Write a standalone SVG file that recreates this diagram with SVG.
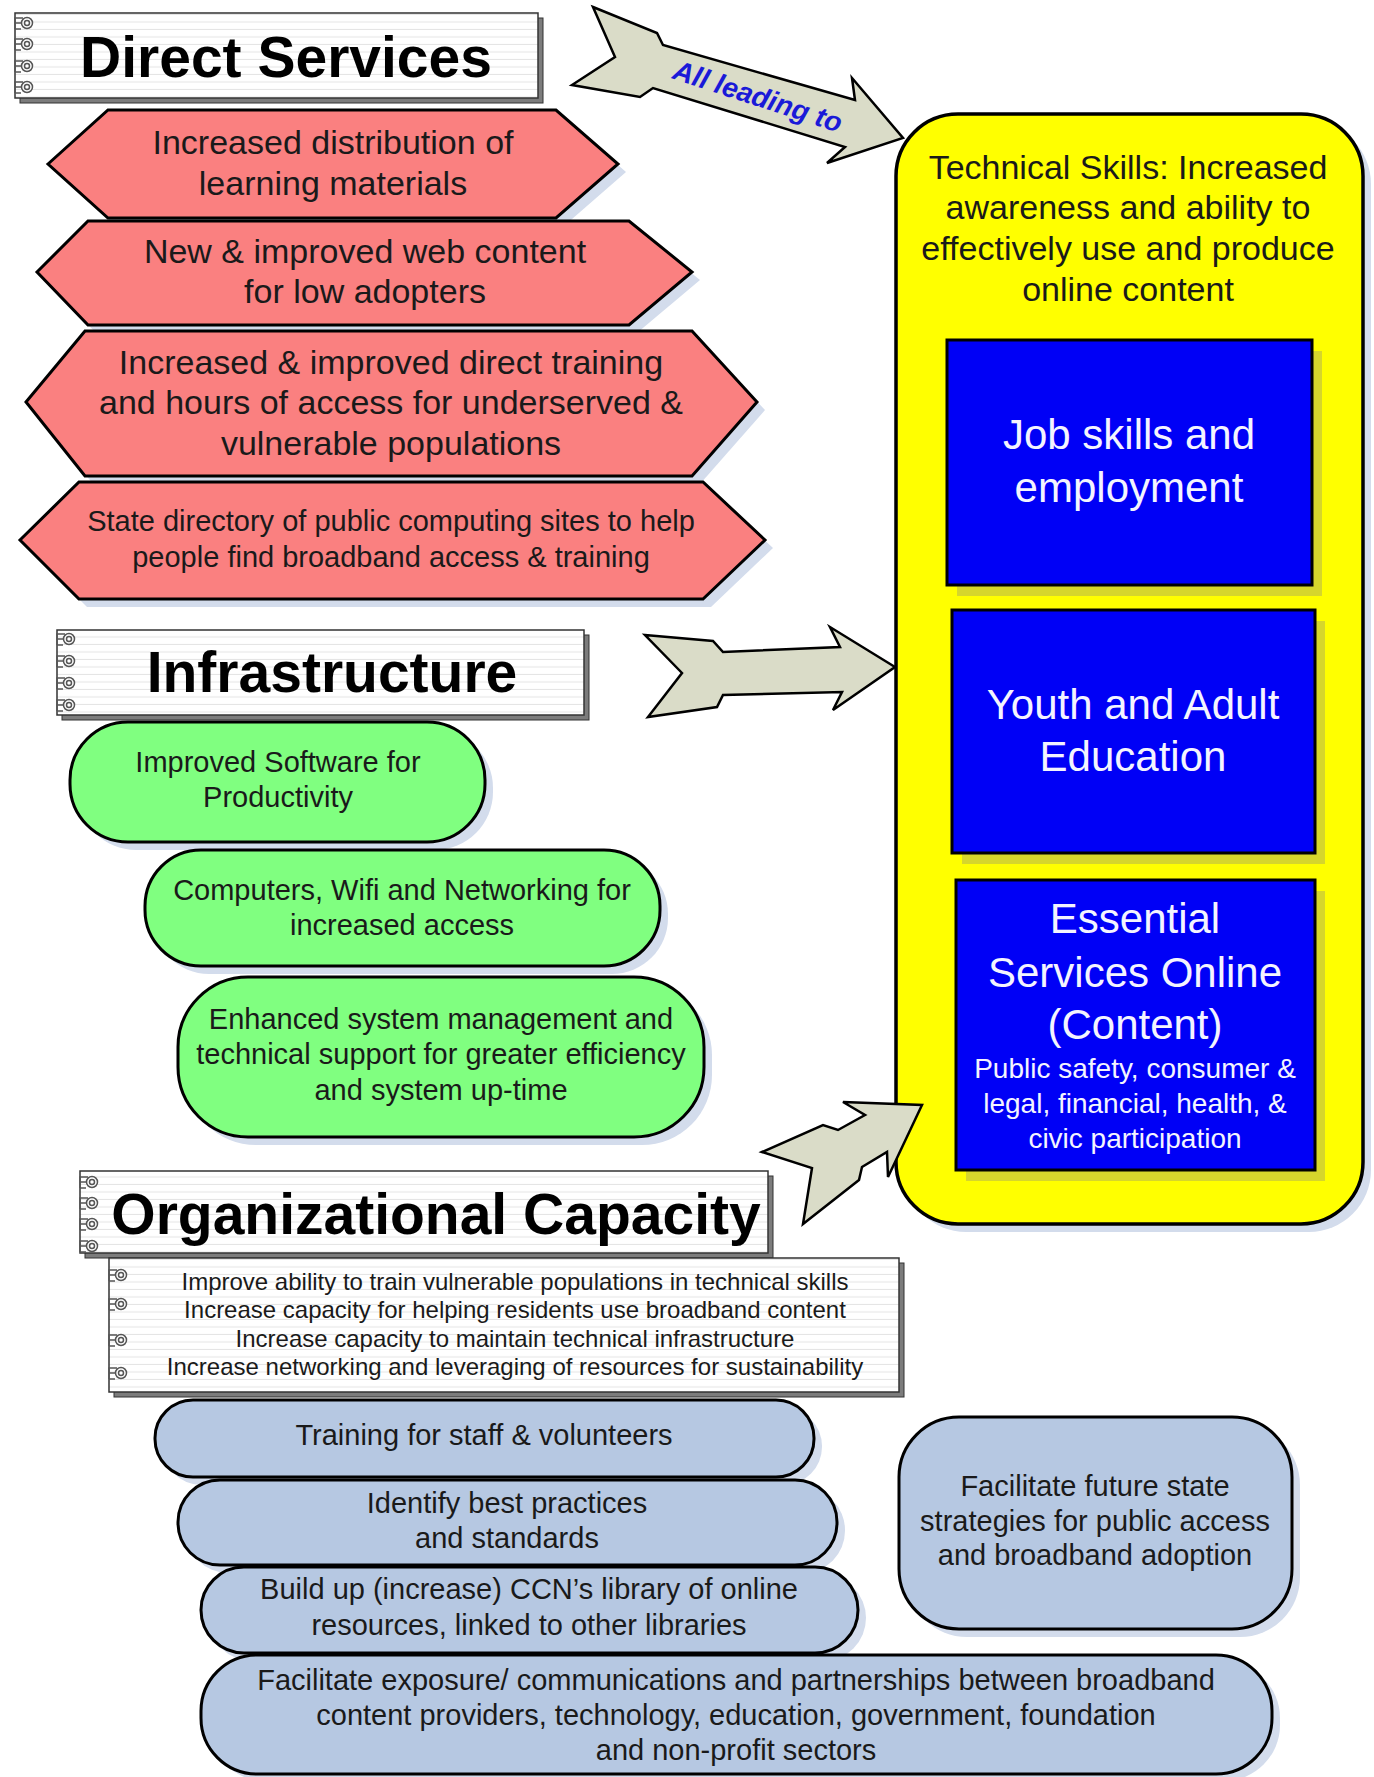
<svg xmlns="http://www.w3.org/2000/svg" width="1374" height="1777" viewBox="0 0 1374 1777">
<style>
.t{font-family:'Liberation Sans',Arial,Helvetica,sans-serif;text-anchor:middle;fill:#1a1a1a}
.title{font-size:57px;font-weight:bold;fill:#000}
.f34{font-size:34px}
.f29{font-size:29px}
.f24{font-size:24px}
.f42{font-size:42px}
.f28{font-size:28px}
.w{fill:#f4f4ff}
.hex{fill:#fa8080;stroke:#000;stroke-width:3;stroke-linejoin:miter}
.sh{fill:#d3dcec;stroke:none}
.ysh{fill:#d6d62c;stroke:none}
.green{fill:#80ff80;stroke:#000;stroke-width:3}
.bg{fill:#b6c8e2;stroke:#000;stroke-width:3}
.arrow{fill:#dadcc8;stroke:#000;stroke-width:2.5;stroke-linejoin:miter}
.nb{fill:url(#ruled);stroke:#333;stroke-width:1.5}
.nbs{fill:#7c7c7c;stroke:#333;stroke-width:1}
.ring{fill:none;stroke:#555;stroke-width:1.5}
.yellow{fill:#ffff00;stroke:#000;stroke-width:3.5}
.blue{fill:#0000f6;stroke:#000;stroke-width:3}
</style>
<defs>
<pattern id="ruled" width="10" height="7.5" patternUnits="userSpaceOnUse">
<rect width="10" height="7.5" fill="#fff"/>
<line x1="0" y1="7" x2="10" y2="7" stroke="#e4e4e4" stroke-width="1"/>
</pattern>
<g id="ring" class="ring">
<circle cx="0" cy="0" r="5.5" fill="#fff"/>
<circle cx="0" cy="0" r="2.5"/>
<path d="M -4 -5 H -12 V 6 M -12 0 H -6 M -12 6 H -6"/>
</g>
</defs>
<rect width="1374" height="1777" fill="#fff"/>

<g id="goal">
<rect class="sh" x="904" y="122" width="467" height="1110" rx="62"/>
<rect class="yellow" x="896" y="114" width="467" height="1110" rx="62"/>
<text class="t f34" x="1128"><tspan x="1128" y="179">Technical Skills: Increased</tspan><tspan x="1128" y="219">awareness and ability to</tspan><tspan x="1128" y="260">effectively use and produce</tspan><tspan x="1128" y="301">online content</tspan></text>
</g>
<g id="job-skills">
<rect class="ysh" x="957" y="351" width="365" height="245"/>
<rect class="blue" x="947" y="340" width="365" height="245"/>
<text class="t f42 w"><tspan x="1129" y="449">Job skills and</tspan><tspan x="1129" y="502">employment</tspan></text>
</g>
<g id="youth-adult">
<rect class="ysh" x="962" y="621" width="363" height="243"/>
<rect class="blue" x="952" y="610" width="363" height="243"/>
<text class="t f42 w"><tspan x="1133" y="719">Youth and Adult</tspan><tspan x="1133" y="771">Education</tspan></text>
</g>
<g id="essential">
<rect class="ysh" x="966" y="891" width="359" height="290"/>
<rect class="blue" x="956" y="880" width="359" height="290"/>
<text class="t f42 w"><tspan x="1135" y="933">Essential</tspan><tspan x="1135" y="987">Services Online</tspan><tspan x="1135" y="1039">(Content)</tspan></text>
<text class="t f28 w"><tspan x="1135" y="1078">Public safety, consumer &amp;</tspan><tspan x="1135" y="1113">legal, financial, health, &amp;</tspan><tspan x="1135" y="1148">civic participation</tspan></text>
</g>

<g id="direct-services">
<rect class="nbs" x="20" y="18" width="523" height="85"/>
<rect class="nb" x="15" y="13" width="523" height="85"/>
<use href="#ring" x="27" y="23"/><use href="#ring" x="27" y="44"/><use href="#ring" x="27" y="66"/><use href="#ring" x="27" y="87"/>
<text class="t title" x="286" y="77">Direct Services</text>
</g>

<g id="ds-1">
<polygon class="sh" points="56,172 116,118 564,118 626,172 564,226 116,226"/>
<polygon class="hex" points="48,164 108,110 556,110 618,164 556,218 108,218"/>
<text class="t f34"><tspan x="333" y="154">Increased distribution of</tspan><tspan x="333" y="195">learning materials</tspan></text>
</g>
<g id="ds-2">
<polygon class="sh" points="45,280 96,229 637,229 700,280 637,333 96,333"/>
<polygon class="hex" points="37,272 88,221 629,221 692,272 629,325 88,325"/>
<text class="t f34"><tspan x="365" y="263">New &amp; improved web content</tspan><tspan x="365" y="303">for low adopters</tspan></text>
</g>
<g id="ds-3">
<polygon class="sh" points="34,410 93,339 700,339 765,410 700,484 93,484"/>
<polygon class="hex" points="26,402 85,331 692,331 757,402 692,476 85,476"/>
<text class="t f34"><tspan x="391" y="374">Increased &amp; improved direct training</tspan><tspan x="391" y="414">and hours of access for underserved &amp;</tspan><tspan x="391" y="455">vulnerable populations</tspan></text>
</g>
<g id="ds-4">
<polygon class="sh" points="28,548 87,490 711,490 773,548 711,607 87,607"/>
<polygon class="hex" points="20,540 79,482 703,482 765,540 703,599 79,599"/>
<text class="t f29"><tspan x="391" y="531">State directory of public computing sites to help</tspan><tspan x="391" y="567">people find broadband access &amp; training</tspan></text>
</g>

<g id="infrastructure">
<rect class="nbs" x="62" y="635" width="527" height="85"/>
<rect class="nb" x="57" y="630" width="527" height="85"/>
<use href="#ring" x="69" y="639"/><use href="#ring" x="69" y="661"/><use href="#ring" x="69" y="683"/><use href="#ring" x="69" y="705"/>
<text class="t title" x="332" y="692">Infrastructure</text>
</g>
<g id="inf-1">
<rect class="sh" x="78" y="730" width="415" height="120" rx="58"/>
<rect class="green" x="70" y="722" width="415" height="120" rx="58"/>
<text class="t f29"><tspan x="278" y="772">Improved Software for</tspan><tspan x="278" y="807">Productivity</tspan></text>
</g>
<g id="inf-2">
<rect class="sh" x="153" y="858" width="515" height="116" rx="56"/>
<rect class="green" x="145" y="850" width="515" height="116" rx="56"/>
<text class="t f29"><tspan x="402" y="900">Computers, Wifi and Networking for</tspan><tspan x="402" y="935">increased access</tspan></text>
</g>
<g id="inf-3">
<rect class="sh" x="186" y="985" width="526" height="160" rx="70"/>
<rect class="green" x="178" y="977" width="526" height="160" rx="70"/>
<text class="t f29"><tspan x="441" y="1029">Enhanced system management and</tspan><tspan x="441" y="1064">technical support for greater efficiency</tspan><tspan x="441" y="1100">and system up-time</tspan></text>
</g>

<g id="org-capacity">
<rect class="nbs" x="85" y="1176" width="688" height="82"/>
<rect class="nb" x="80" y="1171" width="688" height="82"/>
<use href="#ring" x="92" y="1182"/><use href="#ring" x="92" y="1203"/><use href="#ring" x="92" y="1224"/><use href="#ring" x="92" y="1246"/>
<text class="t title" x="436" y="1234">Organizational Capacity</text>
</g>
<g id="org-goals">
<rect class="nbs" x="114" y="1263" width="790" height="134"/>
<rect class="nb" x="109" y="1258" width="790" height="134"/>
<use href="#ring" x="121" y="1275"/><use href="#ring" x="121" y="1304"/><use href="#ring" x="121" y="1340"/><use href="#ring" x="121" y="1373"/>
<text class="t f24"><tspan x="515" y="1290">Improve ability to train vulnerable populations in technical skills</tspan><tspan x="515" y="1318">Increase capacity for helping residents use broadband content</tspan><tspan x="515" y="1347">Increase capacity to maintain technical infrastructure</tspan><tspan x="515" y="1375">Increase networking and leveraging of resources for sustainability</tspan></text>
</g>
<g id="org-1">
<rect class="sh" x="163" y="1408" width="659" height="77" rx="38"/>
<rect class="bg" x="155" y="1400" width="659" height="77" rx="38"/>
<text class="t f29" x="484" y="1445">Training for staff &amp; volunteers</text>
</g>
<g id="org-2">
<rect class="sh" x="186" y="1488" width="659" height="85" rx="42"/>
<rect class="bg" x="178" y="1480" width="659" height="85" rx="42"/>
<text class="t f29"><tspan x="507" y="1513">Identify best practices</tspan><tspan x="507" y="1548">and standards</tspan></text>
</g>
<g id="org-3">
<rect class="sh" x="209" y="1575" width="657" height="86" rx="43"/>
<rect class="bg" x="201" y="1567" width="657" height="86" rx="43"/>
<text class="t f29"><tspan x="529" y="1599">Build up (increase) CCN’s library of online</tspan><tspan x="529" y="1635">resources, linked to other libraries</tspan></text>
</g>
<g id="org-5">
<rect class="sh" x="907" y="1425" width="393" height="212" rx="60"/>
<rect class="bg" x="899" y="1417" width="393" height="212" rx="60"/>
<text class="t f29"><tspan x="1095" y="1496">Facilitate future state</tspan><tspan x="1095" y="1531">strategies for public access</tspan><tspan x="1095" y="1565">and broadband adoption</tspan></text>
</g>
<g id="org-4">
<rect class="sh" x="209" y="1662" width="1071" height="119" rx="56"/>
<rect class="bg" x="201" y="1655" width="1071" height="119" rx="56"/>
<text class="t f29"><tspan x="736" y="1690">Facilitate exposure/ communications and partnerships between broadband</tspan><tspan x="736" y="1725">content providers, technology, education, government, foundation</tspan><tspan x="736" y="1760">and non-profit sectors</tspan></text>
</g>

<g id="connectors">
<polygon class="arrow" points="593,7 657,33 663,45 855,100 852,78 903,138 827,163 845,147 653,88 640,97 572,85 615,57"/>
<text class="t" transform="translate(758,96) rotate(18)" y="10" style="font-size:28px;font-weight:bold;font-style:italic;fill:#1a1ad8">All leading to</text>
<polygon class="arrow" points="645,635 713,641 723,652 840,647 830,627 895,667 833,710 842,692 723,695 717,707 648,717 682,673"/>
<polygon class="arrow" points="762,1152 823,1125 838,1130 865,1115 843,1102 922,1105 888,1177 887,1152 862,1167 859,1180 803,1224 812,1168"/>
</g>
</svg>
